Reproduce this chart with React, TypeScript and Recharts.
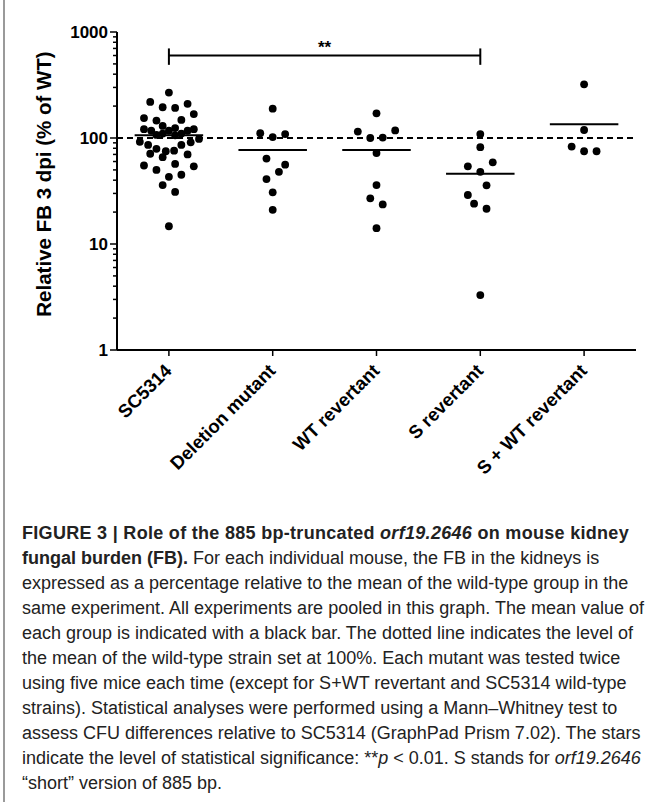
import React from "react";
import { ReferenceLine, Scatter, ScatterChart, XAxis, YAxis } from "recharts";

const categories = ["SC5314", "Deletion mutant", "WT revertant", "S revertant", "S + WT revertant"];

// FB per mouse, % of WT; offsets = horizontal spread in category units
const sc5314Values = [268, 219, 210, 195, 192, 168, 154, 148, 146, 130, 121, 124, 121, 117, 117, 117, 110, 110, 107, 106, 92, 98, 91, 86, 86, 79, 76, 75, 71, 70, 66, 55, 57, 54, 50, 45, 43, 36, 31, 14.7];
const sc5314Offsets = [0, -0.18, 0.18, -0.06, 0.06, 0.24, -0.24, 0.12, -0.12, -0.06, -0.24, 0.06, 0.24, -0.17, 0, 0.18, -0.06, 0.12, -0.12, 0.06, -0.28, 0.29, 0.21, -0.2, 0.12, -0.12, 0.05, -0.03, -0.18, 0.18, -0.06, -0.24, 0.06, 0.24, -0.12, 0.12, 0, -0.06, 0.06, 0];

const deletionValues = [189, 111, 102, 109, 64, 56, 48, 41, 30.7, 21];
const deletionOffsets = [0, -0.12, 0, 0.12, -0.06, 0.12, 0.06, -0.06, 0, 0];

const wtRevertantValues = [171, 115, 118, 100, 101, 72, 36, 27, 23.6, 14.1];
const wtRevertantOffsets = [0, -0.18, 0.18, -0.06, 0.06, 0, 0, -0.06, 0.06, 0];

const sRevertantValues = [109, 82, 54, 59, 48, 35.8, 29, 24, 21.5, 3.3];
const sRevertantOffsets = [0, 0, -0.12, 0.12, 0, 0.06, -0.12, -0.06, 0.06, 0];

const sWtRevertantValues = [321, 119, 83, 75, 75];
const sWtRevertantOffsets = [0, 0, -0.12, 0, 0.12];

const groupMeans = [106, 77, 77, 46, 135];
const wtLevel = 100;

// ** : SC5314 vs S revertant
const sigFrom = 0;
const sigTo = 3;
const sigLevel = 600;
const sigTickTop = 700;
const sigTickBottom = 490;
const sigLabel = "**";

const yTicks = [
  1, 2, 3, 4, 5, 6, 7, 8, 9,
  10, 20, 30, 40, 50, 60, 70, 80, 90,
  100, 200, 300, 400, 500, 600, 700, 800, 900,
  1000,
];
const yMajor = [1, 10, 100, 1000];

const groups = [
  { values: sc5314Values, offsets: sc5314Offsets },
  { values: deletionValues, offsets: deletionOffsets },
  { values: wtRevertantValues, offsets: wtRevertantOffsets },
  { values: sRevertantValues, offsets: sRevertantOffsets },
  { values: sWtRevertantValues, offsets: sWtRevertantOffsets },
];

const FONT = "'Liberation Sans', Arial, Helvetica, sans-serif";

function Dot(props: any) {
  return <circle cx={props.cx} cy={props.cy} r={3.9} fill="#000" />;
}

function YTick(props: any) {
  const { x, y, payload } = props;
  const major = yMajor.includes(payload.value);
  return (
    <g>
      <line x1={x - (major ? 7 : 4)} x2={x} y1={y} y2={y} stroke="#000" strokeWidth={1.5} />
      {major && (
        <text x={x - 9} y={y} dy={6} textAnchor="end" fontFamily={FONT} fontWeight="bold" fontSize={17} fill="#000">
          {payload.value}
        </text>
      )}
    </g>
  );
}

function XTick(props: any) {
  const { x, y, payload } = props;
  const tx = x + 4;
  const ty = y + 22;
  return (
    <g>
      <line x1={x} x2={x} y1={y} y2={y + 6} stroke="#000" strokeWidth={1.5} />
      <text x={tx} y={ty} textAnchor="end" transform={`rotate(-45 ${tx} ${ty})`} fontFamily={FONT} fontWeight="bold" fontSize={18.5} fill="#000">
        {categories[payload.value]}
      </text>
    </g>
  );
}

function YTitle() {
  const cx = 44;
  const cy = 184;
  return (
    <text x={cx} y={cy} dy={7} textAnchor="middle" transform={`rotate(-90 ${cx} ${cy})`} fontFamily={FONT} fontWeight="bold" fontSize={20.5} fill="#000">
      Relative FB 3 dpi (% of WT)
    </text>
  );
}

const captionLines = [
  <b style={{ letterSpacing: 0.3 }}>FIGURE 3 | Role of the 885 bp-truncated <i>orf19.2646</i> on mouse kidney</b>,
  <><b>fungal burden (FB).</b> For each individual mouse, the FB in the kidneys is</>,
  <>expressed as a percentage relative to the mean of the wild-type group in the</>,
  <>same experiment. All experiments are pooled in this graph. The mean value of</>,
  <>each group is indicated with a black bar. The dotted line indicates the level of</>,
  <>the mean of the wild-type strain set at 100%. Each mutant was tested twice</>,
  <>using five mice each time (except for S+WT revertant and SC5314 wild-type</>,
  <>strains). Statistical analyses were performed using a Mann–Whitney test to</>,
  <>assess CFU differences relative to SC5314 (GraphPad Prism 7.02). The stars</>,
  <>indicate the level of statistical significance: **<i>p</i> &lt; 0.01. S stands for <i>orf19.2646</i></>,
  <>“short” version of 885 bp.</>,
];

export default function App() {
  return (
    <div style={{ position: "absolute", left: 0, top: 0, width: 652, height: 802, background: "#fff", overflow: "hidden" }}>
      <div style={{ position: "absolute", left: 3, top: 0, width: 2, height: 802, background: "#9a9a9a" }} />
      <div style={{ position: "absolute", left: 0, top: 0 }}>
        <ScatterChart width={652} height={510} margin={{ top: 32, right: 16, bottom: 0, left: 0 }}>
          <XAxis
            type="number"
            dataKey="x"
            domain={[-0.5, 4.5]}
            ticks={[0, 1, 2, 3, 4]}
            interval={0}
            tickSize={0}
            tickMargin={0}
            tick={<XTick />}
            axisLine={{ stroke: "#000", strokeWidth: 2 }}
            height={160}
          />
          <YAxis
            type="number"
            dataKey="y"
            scale="log"
            domain={[1, 1000]}
            allowDataOverflow
            ticks={yTicks}
            interval={0}
            tickSize={0}
            tickMargin={0}
            tick={<YTick />}
            axisLine={{ stroke: "#000", strokeWidth: 2 }}
            width={117}
            label={<YTitle />}
          />
          <ReferenceLine y={wtLevel} stroke="#000" strokeWidth={2} strokeDasharray="6 4" />
          {groups.map((g, i) => (
            <Scatter
              key={categories[i]}
              name={categories[i]}
              data={g.values.map((v, k) => ({ x: i + g.offsets[k], y: v }))}
              shape={<Dot />}
              isAnimationActive={false}
            />
          ))}
          {groupMeans.map((m, i) => (
            <ReferenceLine
              key={`mean-${i}`}
              segment={[{ x: i - 0.33, y: m }, { x: i + 0.33, y: m }]}
              stroke="#000"
              strokeWidth={2}
            />
          ))}
          <ReferenceLine segment={[{ x: sigFrom, y: sigTickBottom }, { x: sigFrom, y: sigTickTop }]} stroke="#000" strokeWidth={2} />
          <ReferenceLine segment={[{ x: sigTo, y: sigTickBottom }, { x: sigTo, y: sigTickTop }]} stroke="#000" strokeWidth={2} />
          <ReferenceLine
            segment={[{ x: sigFrom, y: sigLevel }, { x: sigTo, y: sigLevel }]}
            stroke="#000"
            strokeWidth={2}
            label={{ value: sigLabel, position: "top", offset: 3, fontFamily: FONT, fontWeight: "bold", fontSize: 17, fill: "#000" }}
          />
        </ScatterChart>
      </div>
      <div
        style={{
          position: "absolute",
          left: 22,
          top: 521,
          fontFamily: FONT,
          fontSize: 18,
          lineHeight: "25px",
          color: "#222",
          whiteSpace: "nowrap",
        }}
      >
        {captionLines.map((line, i) => (
          <div key={i}>{line}</div>
        ))}
      </div>
    </div>
  );
}
